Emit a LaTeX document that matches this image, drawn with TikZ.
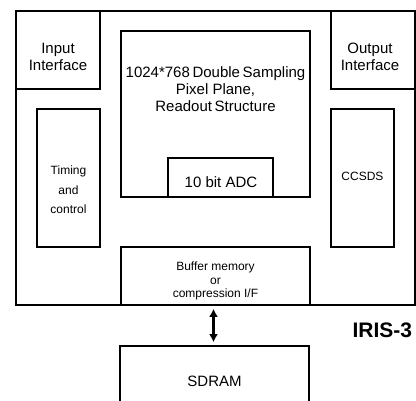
\documentclass[tikz,border=0pt]{standalone}
\usepackage{fontspec}
\setmainfont{Liberation Sans}
\usetikzlibrary{arrows.meta}

\begin{document}
\begin{tikzpicture}[x=1pt, y=-1pt, line width=1.7pt,
	box/.style 2 args={draw, inner sep=0pt, minimum width=#1, minimum height=#2},
	big/.style={font=\fontsize{15}{17}\selectfont, align=center, inner sep=0pt},
	small/.style={font=\fontsize{12}{19.5}\selectfont, align=center, inner sep=0pt}]
	\clip (0,0) rectangle (416,401);
	
	%chip and its blocks
	\node[box={399}{294}] (chip) at (215.5,158) {};
	\node[box={84}{78}] (input) at (58,50) {};
	\node[box={84}{78}] (output) at (373,50) {};
	\node[box={189}{166}] (plane) at (215.5,114) {};
	\node[box={105}{39}] (adc) at (220.5,177.5) {};
	\node[box={63}{138}] (timing) at (68.5,178) {};
	\node[box={63}{138}] (ccsds) at (362.5,178) {};
	\node[box={189}{58}] (buffer) at (215.5,276) {};
	
	%external memory
	\node[box={189}{70}] (sdram) at (214.5,381) {};
	
	%texts
	\node[big] (inputtxt) at (58,56.5) {Input\\Interface};
	\node[big] (outputtxt) at (370,56.5) {Output\\Interface};
	\node[big] (planetxt) at (215.5,89) {1024*768\hspace{-1.5pt} Double\hspace{-1.5pt} Sampling\\Pixel Plane,\\Readout\hspace{-1.5pt} Structure};
	\node[big] (adctxt) at (221,182) {10 bit ADC};
	\node[small] (timingtxt) at (68.5,190) {Timing\\and\\control};
	\node[small] (ccsdstxt) at (362.5,176) {CCSDS};
	\node[small, font=\fontsize{12}{13.5}\selectfont] (buffertxt) at (215.5,281) {Buffer memory\\or\\compression I/F};
	\node[big] (sdramtxt) at (214.5,381) {SDRAM};
	\node[anchor=east, inner sep=0pt, font=\fontsize{21}{21}\bfseries] (iris) at (413,330) {IRIS-3};
	
	%bus to sdram
	\coordinate (bus) at ([xshift=-2pt]buffer.south);
	\draw[{Latex[length=8pt,width=9pt]}-{Latex[length=8pt,width=9pt]}, line width=2.3pt, shorten >=3pt, shorten <=3pt] (bus) -- (bus |- sdram.north);
\end{tikzpicture}
\end{document}
